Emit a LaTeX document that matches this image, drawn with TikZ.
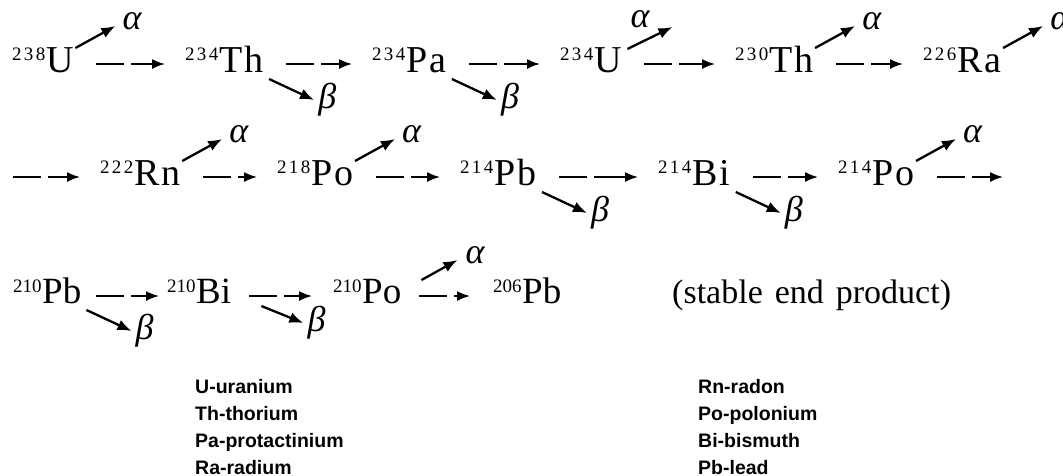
\documentclass[tikz,border=0pt]{standalone}
\usepackage{fontspec}
\usetikzlibrary{arrows.meta}
\setmainfont{Liberation Serif}
\newfontfamily\elfont[LetterSpace=5]{Liberation Serif}
\newfontfamily\supfnt[LetterSpace=12]{Liberation Serif}
\newfontfamily\plainfnt{Liberation Serif}
\newfontfamily\legfont{Liberation Sans}
\newcommand\iso[2]{\raisebox{12pt}{\fontsize{19}{19}\supfnt #1}\kern1.5pt{\fontsize{38}{40}\elfont #2}}
\newcommand\isoc[2]{\raisebox{11pt}{\fontsize{19}{19}\plainfnt #1}\kern0.5pt{\fontsize{37}{40}\plainfnt #2}}
\tikzset{
  isob/.style={inner sep=0pt, anchor=base west},
  decay/.style={line width=2.3pt, -{Latex[length=14pt,width=11pt]}},
  flow/.style={line width=1.7pt, dash pattern=on 28pt off 7pt on 300pt, -{Latex[length=13pt,width=10pt]}},
  grk/.style={inner sep=0pt, anchor=base west, font=\fontsize{36}{36}\selectfont\itshape},
  leg/.style={inner sep=0pt, anchor=base west, font=\fontsize{19.5}{20}\legfont\bfseries},
}
\begin{document}
\begin{tikzpicture}[x=1pt,y=-1pt]
\useasboundingbox (0,0) rectangle (1063,475);
% row 1
\node[isob] (u238) at (12,72) {\iso{238}{U}};
\node[isob] (th234) at (185,72) {\iso{234}{Th}};
\node[isob] (pa234) at (372,72) {\iso{234}{Pa}};
\node[isob] (u234) at (560,72) {\iso{234}{U}};
\node[isob] (th230) at (735,72) {\iso{230}{Th}};
\node[isob] (ra226) at (923,72) {\iso{226}{Ra}};
% row 2
\coordinate (r2s) at (13,177);
\node[isob] (rn222) at (100,185) {\iso{222}{Rn}};
\node[isob] (po218) at (277,185) {\iso{218}{Po}};
\node[isob] (pb214) at (460,185) {\iso{214}{Pb}};
\node[isob] (bi214) at (658,185) {\iso{214}{Bi}};
\node[isob] (po214) at (838,185) {\iso{214}{Po}};
\coordinate (r2e) at (1003,177);
% row 3
\node[isob] (pb210) at (13,303) {\isoc{210}{Pb}};
\node[isob] (bi210) at (167,303) {\isoc{210}{Bi}};
\node[isob] (po210) at (333,303) {\isoc{210}{Po}};
\node[isob] (pb206) at (493,303) {\isoc{206}{Pb}};
\node[isob, font=\fontsize{34}{36}\selectfont] (stable) at (672,303) {\spaceskip=12pt plus 2pt\relax(stable end product)};
% chain arrows
\foreach \a/\b in {u238/th234, th234/pa234, pa234/u234, u234/th230, th230/ra226,
                   rn222/po218, po218/pb214, pb214/bi214, bi214/po214}
  \draw[flow] ([shift={(22pt,8pt)}]\a.base east) -- ([shift={(-20pt,8pt)}]\b.base west);
\draw[flow] (r2s) -- ([shift={(-20pt,8pt)}]rn222.base west);
\draw[flow] ([shift={(22pt,8pt)}]po214.base east) -- (r2e);
\foreach \a/\b/\s/\e in {pb210/bi210/15/-8, bi210/po210/18/-21, po210/pb206/18/-23}
  \draw[flow] ([shift={(\s pt,7pt)}]\a.base east) -- ([shift={(\e pt,7pt)}]\b.base west);
% alpha decays
\foreach \n in {u238, th230, ra226, rn222, po218, po214} {
  \node[grk] (al-\n) at ([shift={(48pt,43pt)}]\n.base east) {α};
  \draw[decay] ([shift={(1pt,24pt)}]\n.base east) -- ([shift={(-7pt,3pt)}]al-\n.base west);
}
\node[grk] (al-u234) at ([shift={(8pt,45pt)}]u234.base east) {α};
\draw[decay] ([shift={(5pt,23pt)}]u234.base east) -- ([shift={(42pt,0pt)}]al-u234.base west);
\node[grk] (al-po210) at ([shift={(64pt,40pt)}]po210.base east) {α};
\draw[decay] ([shift={(20pt,23pt)}]po210.base east) -- ([shift={(-8pt,3pt)}]al-po210.base west);
% beta decays
\foreach \n in {th234, pa234, pb214, bi214, pb210} {
  \node[grk] (be-\n) at ([shift={(54pt,-36pt)}]\n.base east) {β};
  \draw[decay] ([shift={(5pt,-7pt)}]\n.base east) -- ([shift={(-4pt,8pt)}]be-\n.base west);
}
\node[grk] (be-bi210) at ([shift={(76pt,-28pt)}]bi210.base east) {β};
\draw[decay] ([shift={(30pt,-3pt)}]bi210.base east) -- ([shift={(-4pt,8pt)}]be-bi210.base west);
% legend
\foreach \t [count=\i] in {U-uranium,Th-thorium,Pa-protactinium,Ra-radium}
  \node[leg] (ll\i) at (195,{366+27*\i}) {\t};
\foreach \t [count=\i] in {Rn-radon,Po-polonium,Bi-bismuth,Pb-lead}
  \node[leg] (lr\i) at (698,{366+27*\i}) {\t};
\end{tikzpicture}
\end{document}
